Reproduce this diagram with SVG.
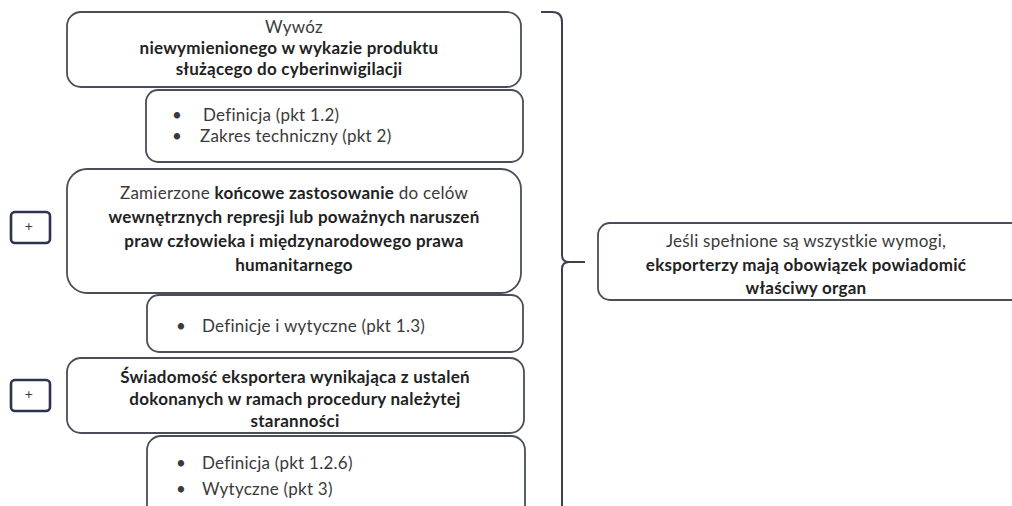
<svg xmlns="http://www.w3.org/2000/svg" width="1012" height="506" viewBox="0 0 1012 506">
<style>
.box{fill:#fff;stroke:#4a4e5a;stroke-width:1.8}
.plus{fill:#fff;stroke:#2e3250;stroke-width:2.6}
.t{font-family:Lato,"Open Sans","Liberation Sans",sans-serif;font-size:17px;letter-spacing:0.25px;fill:#3a3a3a;text-anchor:middle}
.l{font-family:Lato,"Open Sans","Liberation Sans",sans-serif;font-size:17px;letter-spacing:0.25px;fill:#3a3a3a}
.b{font-weight:bold;fill:#222}
.br{fill:none;stroke:#3c4050;stroke-width:2}
</style>
<rect width="1012" height="506" fill="#fff"/>
<g id="connectors">
<path class="br" d="M541,12 H552 Q562,12 562,22 V255 Q562,262 569,262 H585 M569,262 Q562,262 562,269 V510"/>
</g>
<g id="plus1"><rect class="plus" x="11" y="212" width="39" height="31" rx="4"/><text class="t" x="29" y="231" style="font-size:14px">+</text></g>
<g id="plus2"><rect class="plus" x="11" y="380" width="39" height="31" rx="4"/><text class="t" x="29" y="399" style="font-size:14px">+</text></g>
<g id="node1">
<rect class="box" x="67" y="12" width="454" height="75" rx="14"/>
<text class="t" x="294" y="33">Wywóz</text>
<text class="t b" x="289" y="54">niewymienionego w wykazie produktu</text>
<text class="t b" x="289" y="75">służącego do cyberinwigilacji</text>
</g>
<g id="sub1">
<rect class="box" x="146" y="90" width="377" height="72" rx="12"/>
<text class="l" x="172" y="121">•</text><text class="l" x="203" y="121">Definicja (pkt 1.2)</text>
<text class="l" x="172" y="142">•</text><text class="l" x="200" y="142">Zakres techniczny (pkt 2)</text>
</g>
<g id="node2">
<rect class="box" x="67" y="169" width="454" height="124" rx="20"/>
<text class="t" x="294" y="199">Zamierzone <tspan class="b">końcowe zastosowanie</tspan> do celów</text>
<text class="t b" x="294" y="223">wewnętrznych represji lub poważnych naruszeń</text>
<text class="t b" x="294" y="247">praw człowieka i międzynarodowego prawa</text>
<text class="t b" x="294" y="271">humanitarnego</text>
</g>
<g id="sub2">
<rect class="box" x="147" y="295" width="376" height="57" rx="12"/>
<text class="l" x="176" y="332">•</text><text class="l" x="202" y="332">Definicje i wytyczne (pkt 1.3)</text>
</g>
<g id="node3">
<rect class="box" x="67" y="358" width="457" height="75" rx="14"/>
<text class="t b" x="295" y="383">Świadomość eksportera wynikająca z ustaleń</text>
<text class="t b" x="295" y="405">dokonanych w ramach procedury należytej</text>
<text class="t b" x="295" y="427">staranności</text>
</g>
<g id="sub3">
<rect class="box" x="147" y="436" width="378" height="90" rx="14"/>
<text class="l" x="176" y="469">•</text><text class="l" x="202" y="469">Definicja (pkt 1.2.6)</text>
<text class="l" x="176" y="495">•</text><text class="l" x="202" y="495">Wytyczne (pkt 3)</text>
</g>
<g id="result">
<rect class="box" x="598" y="223" width="430" height="77" rx="12"/>
<text class="t" x="806" y="247">Jeśli spełnione są wszystkie wymogi,</text>
<text class="t b" x="806" y="271">eksporterzy mają obowiązek powiadomić</text>
<text class="t b" x="806" y="294">właściwy organ</text>
</g>
</svg>
